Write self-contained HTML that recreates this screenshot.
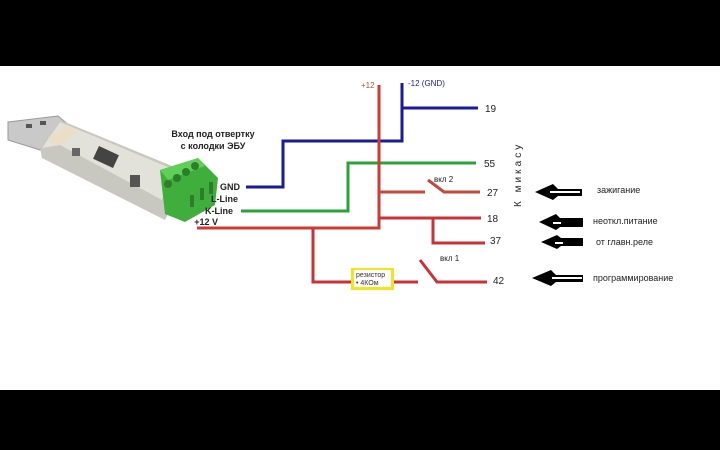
<!DOCTYPE html>
<html><head><meta charset="utf-8"><style>
html,body{margin:0;padding:0;background:#000;}
svg{display:block}
text{font-family:"Liberation Sans","DejaVu Sans",sans-serif;}
</style></head><body>
<svg width="720" height="450" viewBox="0 0 720 450" xmlns="http://www.w3.org/2000/svg">
<rect x="0" y="0" width="720" height="450" fill="#000"/>
<rect x="0" y="66" width="720" height="324" fill="#fff"/>
<!-- USB stick -->
<polygon points="8,122 58,116 70,126 40,150 8,140" fill="#c9c9c9" stroke="#999" stroke-width="1"/>
<rect x="26" y="124" width="6" height="4" fill="#555"/>
<rect x="40" y="121" width="6" height="4" fill="#555"/>
<polygon points="40,148 60,120 172,166 175,200 165,220 42,158" fill="#c8c8c0"/>
<polygon points="42,148 60,122 170,168 162,200 60,145" fill="#e2e2da"/>
<polygon points="48,138 68,125 78,132 58,146" fill="#eadfc4"/>
<rect x="95" y="150" width="22" height="14" fill="#444" transform="rotate(25 106 157)"/>
<rect x="72" y="148" width="8" height="8" fill="#666"/>
<rect x="130" y="175" width="10" height="12" fill="#555"/>
<polygon points="160,170 198,158 218,178 215,205 185,222 165,214" fill="#3fae3c"/>
<polygon points="160,170 198,158 205,166 168,180" fill="#5fcf58"/>
<circle cx="168" cy="184" r="4" fill="#2e7d2a"/><circle cx="177" cy="178" r="4" fill="#2e7d2a"/>
<circle cx="186" cy="172" r="4" fill="#2e7d2a"/><circle cx="195" cy="166" r="4" fill="#2e7d2a"/>
<rect x="190" y="195" width="4" height="12" fill="#2e7d2a"/><rect x="200" y="188" width="4" height="12" fill="#2e7d2a"/><rect x="209" y="182" width="4" height="12" fill="#2e7d2a"/>
<text x="213" y="137" font-size="9" font-weight="bold" text-anchor="middle" fill="#222">Вход под отвертку</text>
<text x="213" y="149" font-size="9" font-weight="bold" text-anchor="middle" fill="#222">с колодки ЭБУ</text>
<text x="240" y="190" font-size="9" font-weight="bold" text-anchor="end" fill="#222">GND</text>
<text x="238" y="202" font-size="9" font-weight="bold" text-anchor="end" fill="#222">L-Line</text>
<text x="233" y="214" font-size="9" font-weight="bold" text-anchor="end" fill="#222">K-Line</text>
<text x="218" y="225" font-size="9" font-weight="bold" text-anchor="end" fill="#222">+12 V</text>
<!-- wires -->
<g fill="none" stroke-width="3" stroke-linejoin="miter">
<polyline points="246,187 283,187 283,141 402,141 402,83" stroke="#1a1a9a"/>
<line x1="402" y1="108" x2="478" y2="108" stroke="#1a1a9a"/>
<polyline points="241,211 348,211 348,163 476,163" stroke="#2aa336"/>
<polyline points="197,228 379,228 379,85" stroke="#cc3b35"/>
<line x1="379" y1="192" x2="425" y2="192" stroke="#c24a3a"/>
<polyline points="428,180 444,192 480,192" stroke="#c24a3a"/>
<line x1="379" y1="218" x2="481" y2="218" stroke="#c8323a"/>
<polyline points="433,218 433,243 485,243" stroke="#c8323a"/>
<polyline points="313,228 313,282 418,282" stroke="#c8323a"/>
<polyline points="420,260 437,282 487,282" stroke="#c8323a"/>
</g>
<rect x="351" y="268" width="43" height="22" fill="#f4e31e"/>
<rect x="354" y="270" width="37" height="17" fill="#fff"/>
<text x="356" y="277" font-size="7" fill="#333">резистор</text>
<text x="356" y="285" font-size="7" fill="#333">• 4КОм</text>
<text x="361" y="88" font-size="8" fill="#b5533a">+12</text>
<text x="408" y="86" font-size="8" fill="#1a1a9a">-12 (GND)</text>
<text x="434" y="182" font-size="8" fill="#222">вкл 2</text>
<text x="440" y="261" font-size="8" fill="#222">вкл 1</text>
<g font-size="10" fill="#222">
<text x="485" y="112">19</text>
<text x="484" y="167">55</text>
<text x="487" y="196">27</text>
<text x="487" y="222">18</text>
<text x="490" y="244">37</text>
<text x="493" y="284">42</text>
</g>
<text transform="translate(521,207) rotate(-90)" font-size="10" fill="#222" letter-spacing="3">К микасу</text>
<!-- arrows -->
<g fill="#000">
<polygon points="535,192 553,184 558,189 582,189 582,196 558,196 553,200"/>
<polygon points="539,222 556,214 560,218 583,218 583,227 560,227 556,230"/>
<polygon points="541,242 557,235 561,238 583,238 583,246 561,246 557,249"/>
<polygon points="532,278 551,270 556,275 583,275 583,282 556,282 551,286"/>
</g>
<g fill="#fff"><rect x="550" y="191" width="30" height="2"/><rect x="552" y="277" width="30" height="2"/><rect x="553" y="222" width="8" height="2"/><rect x="555" y="242" width="8" height="2"/></g>
<g font-size="9" fill="#222">
<text x="597" y="193">зажигание</text>
<text x="593" y="224">неоткл.питание</text>
<text x="596" y="245">от главн.реле</text>
<text x="593" y="281">программирование</text>
</g>
</svg>
</body></html>
